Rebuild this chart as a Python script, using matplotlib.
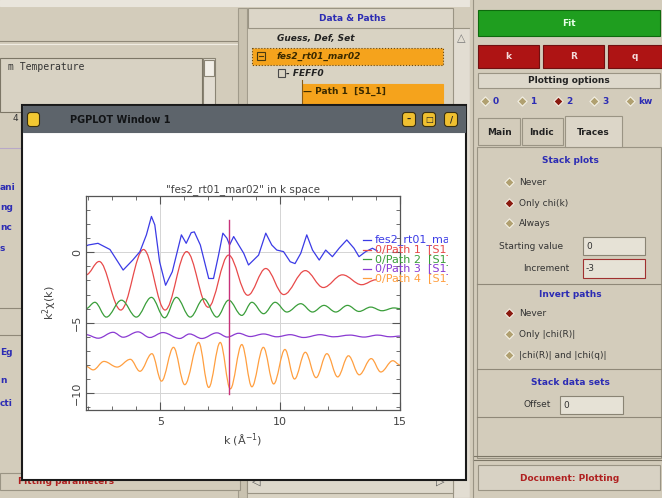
import matplotlib
matplotlib.use("Agg")
import matplotlib.pyplot as plt
from matplotlib.patches import Rectangle, PathPatch, FancyBboxPatch
from matplotlib.path import Path
from matplotlib.transforms import Bbox, TransformedBbox
from matplotlib.ticker import MultipleLocator

# stacked chi(k) traces
data_k = [1.9, 2.0, 2.4, 2.9, 3.45, 3.85, 4.15, 4.42, 4.63, 4.77, 4.97, 5.22, 5.5,
          5.88, 6.08, 6.29, 6.42, 6.67, 7.02, 7.22, 7.43, 7.61, 7.78, 7.89, 8.06,
          8.27, 8.48, 8.68, 8.89, 9.1, 9.4, 9.65, 9.86, 10.14, 10.42, 10.62, 10.86,
          11.11, 11.35, 11.63, 11.9, 12.18, 12.46, 12.78, 13.08, 13.29, 13.57,
          13.85, 14.05]
data_chi = [0.45, 0.52, 0.64, 0.2, -1.26, -0.55, 0.05, 1.24, 2.55, 1.95, -0.67,
            -2.34, -1.38, 1.24, 0.64, 1.4, 1.45, 0.52, -1.86, -1.86, -0.2, 1.36,
            1.0, 0.52, 1.12, 0.52, -0.07, -0.9, -0.55, -0.2, 1.36, 0.52, 0.16,
            0.05, -0.67, -0.8, -0.07, 1.24, 0.16, -0.55, 0.16, -0.31, 0.29, 0.88,
            0.29, -0.31, 0.05, 0.29, 0.1]

# paths: only the turning points are listed, drawn as smooth curves
path1_k = [1.9, 2.45, 3.35, 4.3, 5.2, 6.1, 7.0, 7.85, 8.65, 9.4, 10.15, 11.05,
           11.8, 12.6, 13.4, 14.0]
path1_chi = [-1.6, -0.65, -4.1, 0.2, -4.1, 0.05, -3.9, -0.2, -3.05, -1.15, -3.0,
             -1.3, -2.5, -1.6, -2.3, -1.95]

path2_k = [1.9, 2.27, 2.75, 3.38, 4.0, 4.63, 5.18, 5.67, 6.25, 6.81, 7.36, 7.85,
           8.4, 8.82, 9.31, 9.79, 10.28, 10.86, 11.35, 11.83, 12.32, 12.81, 13.29,
           13.78, 14.25, 14.75, 15.0]
path2_chi = [-4.0, -3.55, -4.6, -3.4, -4.6, -3.2, -4.65, -3.2, -4.6, -3.3, -4.6,
             -3.4, -4.48, -3.55, -4.36, -3.55, -4.24, -3.65, -4.24, -3.77, -4.24,
             -3.77, -4.2, -3.89, -4.15, -3.95, -4.0]

path3_k = [1.9, 2.41, 3.03, 3.45, 4.07, 4.56, 5.11, 5.81, 6.22, 6.73, 7.36, 7.8,
           8.27, 8.75, 9.31, 9.86, 10.42, 10.98, 11.67, 12.23, 12.92, 13.5, 14.06,
           14.6, 15.0]
path3_chi = [-5.85, -6.1, -5.68, -6.03, -5.65, -6.05, -5.7, -6.12, -5.8, -6.12,
             -5.72, -6.02, -5.75, -5.98, -5.8, -6.0, -5.85, -6.05, -5.85, -6.0,
             -5.88, -6.02, -5.88, -6.0, -5.95]

path4_k = [1.9, 2.2, 2.65, 3.2, 3.75, 4.15, 4.65, 5.05, 5.55, 6.02, 6.6, 7.02, 7.5,
           7.92, 8.4, 8.82, 9.3, 9.73, 10.2, 10.6, 11.05, 11.5, 11.95, 12.4, 12.85,
           13.3, 13.8, 14.2, 14.7, 15.0]
path4_chi = [-8.1, -8.35, -7.75, -8.15, -7.6, -8.45, -7.2, -9.15, -6.75, -9.4,
             -6.4, -9.6, -6.4, -9.7, -6.55, -9.55, -6.75, -9.35, -6.9, -9.0, -7.1,
             -8.9, -7.2, -8.85, -7.35, -8.7, -7.55, -8.5, -7.7, -8.0]

legend_labels = ["fes2_rt01_mar02", "0/Path 1  [S1_1]", "0/Path 2  [S1_2]",
                 "0/Path 3  [S1_3]", "0/Path 4  [S1_4]"]
colors = ["#3b3be6", "#e84a4a", "#3a9e3a", "#8a3ad2", "#ff9f40"]
k_marker = 7.87

BG = "#d3ccbb"
BLUE_TXT = "#2c2cb4"


def smooth(ax, k, v, color):
    # cubic bezier with flat tangents at each turning point
    verts = [(k[0], v[0])]
    codes = [Path.MOVETO]
    for i in range(1, len(k)):
        d = (k[i] - k[i - 1]) * 0.36
        verts += [(k[i - 1] + d, v[i - 1]), (k[i] - d, v[i]), (k[i], v[i])]
        codes += [Path.CURVE4] * 3
    ax.add_patch(PathPatch(Path(verts, codes), fill=False, edgecolor=color, lw=0.9))


fig = plt.figure(figsize=(6.62, 4.98), dpi=100, facecolor=BG)

# ---- the GUI around the plot, in pixel coordinates
ui = fig.add_axes([0, 0, 1, 1])
ui.set_xlim(0, 662)
ui.set_ylim(498, 0)
ui.axis("off")


def box(x0, y0, x1, y1, fc, ec=None, lw=0.8, z=1, ls="-"):
    ui.add_patch(Rectangle((x0, y0), x1 - x0, y1 - y0, facecolor=fc,
                           edgecolor=ec or fc, lw=lw, zorder=z, ls=ls))


def label(x, y, s, size=6.5, z=2, **kw):
    kw.setdefault("color", "#222222")
    ui.text(x, y, s, fontsize=size, va="center", zorder=z, **kw)


def hline(x0, x1, y, color="#8f8878", z=1, lw=0.8):
    ui.plot([x0, x1], [y, y], color=color, lw=lw, zorder=z)


def radio(x, y, on=False):
    ui.scatter([x], [y], marker="D", s=22, facecolor="#b0a070" if not on else "#8a1a10",
               edgecolor="#f4f0e4", lw=0.8, zorder=3)


box(0, 0, 662, 6, "#e9e5dc")

# left panel
hline(0, 238, 41)
hline(0, 238, 44, color="#f0ece2")
box(0, 58, 202, 112, "#d8d2c3", ec="#7c7666")
label(8, 67, "m Temperature", size=7, family="DejaVu Sans Mono", color="#333333")
box(203, 58, 215, 112, "#e2ddd2", ec="#8a8474")
box(204, 60, 214, 76, "#f2efe8", ec="#8a8474")
box(238, 8, 247, 498, "#c9c2b0", ec="#a09a8a")
for y, s in [(187, "ani"), (207, "ng"), (227, "nc"), (248, "s"), (352, "Eg"),
             (380, "n"), (403, "cti")]:
    label(0, y, s, weight="bold", color=BLUE_TXT)
label(13, 118, "4", color="#333333")
hline(0, 22, 148, color="#b8a8c8")
hline(0, 22, 308)
hline(0, 22, 335)
box(0, 473, 240, 490, BG, ec="#9a9484")
label(18, 481, "Fitting parameters", weight="bold", color="#b02020")

# data & paths tree
box(248, 28, 453, 498, "#d9d3c3")
box(248, 8, 453, 28, "#dcd6c8", ec="#9a9484")
label(352, 18, "Data & Paths", weight="bold", color=BLUE_TXT, ha="center")
label(277, 38, "Guess, Def, Set", weight="bold", style="italic")
box(252, 48, 443, 65, "#f5a31c", ec="#6a4a10", ls=":")
box(257, 52, 265, 60, "#f5a31c", ec="#4a3a10", z=2)
hline(259, 263, 56, color="#4a3a10", z=3)
label(277, 56, "fes2_rt01_mar02", weight="bold", style="italic", color="#3a2a00")
box(278, 69, 285, 77, "#d9d3c3", ec="#4a4a4a", z=2)
label(286, 73, "- FEFF0", weight="bold", style="italic")
ui.plot([302, 302], [80, 115], color="#8a5a10", lw=0.8, zorder=2)
box(303, 84, 443, 99, "#f5a31c")
label(303, 91, "— Path 1  [S1_1]", weight="bold", color="#3a2a00")
box(303, 100, 443, 115, "#f5a31c")
label(303, 108, "— Path 2  [S1_2]", weight="bold", color="#3a2a00")
box(453, 28, 470, 498, "#e2ddd2", ec="#9a9484")
label(461, 38, "△", ha="center", color="#777777", size=8)
box(247, 472, 453, 493, "#ddd8cb", ec="#9a9484", z=2)
label(256, 482, "◁", ha="center", color="#555555", size=8, z=3)
label(440, 482, "▷", ha="center", color="#555555", size=8, z=3)

# right control panel
box(470, 0, 662, 498, BG)
ui.plot([473, 473], [0, 498], color="#9a9484", lw=0.8, zorder=2)
box(478, 10, 660, 36, "#1f9e1f", ec="#0d6a0d", z=2)
label(569, 23, "Fit", weight="bold", color="#e8ffe8", ha="center")
for x0, x1, s in [(478, 539, "k"), (543, 604, "R"), (608, 662, "q")]:
    box(x0, 45, x1, 68, "#ae1414", ec="#701010", z=2)
    label((x0 + x1) / 2, 56, s, weight="bold", color="#f4dada", ha="center")
box(478, 73, 660, 88, "#ddd8cb", ec="#9a9484", z=2)
label(569, 80, "Plotting options", weight="bold", ha="center")
for x, s, on in [(485, "0", False), (522, "1", False), (558, "2", True),
                 (594, "3", False), (630, "kw", False)]:
    radio(x, 101, on)
    label(x + 8, 101, s, weight="bold", color=BLUE_TXT)
box(478, 118, 520, 145, BG, ec="#9a9484", z=2)
label(499, 132, "Main", weight="bold", ha="center")
box(522, 118, 563, 145, BG, ec="#9a9484", z=2)
label(542, 132, "Indic", weight="bold", ha="center")
box(565, 116, 622, 147, "#dcd6c8", ec="#9a9484", z=2)
label(593, 132, "Traces", weight="bold", ha="center")
box(477, 147, 661, 458, BG, ec="#9a9484")
label(570, 160, "Stack plots", weight="bold", color=BLUE_TXT, ha="center")
for y, s, on in [(182, "Never", False), (203, "Only chi(k)", True),
                 (223, "Always", False)]:
    radio(509, y, on)
    label(519, y, s, color="#333333")
label(499, 246, "Starting value", color="#333333")
box(583, 237, 645, 255, "#e6e2d6", ec="#8a8474", z=2)
label(586, 246, "0", color="#333333")
label(523, 268, "Increment", color="#333333")
box(583, 259, 645, 278, "#e6e2d6", ec="#a03030", z=2)
label(586, 268, "-3", color="#333333")
hline(477, 661, 284)
label(570, 294, "Invert paths", weight="bold", color=BLUE_TXT, ha="center")
for y, s, on in [(313, "Never", True), (334, "Only |chi(R)|", False),
                 (355, "|chi(R)| and |chi(q)|", False)]:
    radio(509, y, on)
    label(519, y, s, color="#333333")
hline(477, 661, 369)
label(570, 382, "Stack data sets", weight="bold", color=BLUE_TXT, ha="center")
label(523, 404, "Offset", color="#333333")
box(560, 396, 623, 414, "#e6e2d6", ec="#8a8474", z=2)
label(563, 405, "0", color="#333333")
hline(477, 661, 417)
hline(473, 662, 456, color="#7c7666")
hline(473, 662, 460, color="#7c7666")
box(478, 465, 660, 490, "#d8d2c4", ec="#9a9484", z=2)
label(570, 478, "Document: Plotting", weight="bold", color="#b02020", ha="center")

# PGPLOT window
box(22, 105, 466, 480, "#ffffff", ec="#1a1a1a", lw=1.5, z=5)
box(23, 106, 465, 132, "#5d646b", z=6)
ui.add_patch(FancyBboxPatch((28, 113), 11, 13, boxstyle="round,pad=0.5,rounding_size=3",
                            facecolor="#f2c832", edgecolor="#3a3010", lw=0.8, zorder=7))
label(70, 120, "PGPLOT Window 1", size=7, weight="bold", color="#121416", z=7)
for x, sym in [(403, "–"), (423, "□"), (445, "/")]:
    ui.add_patch(FancyBboxPatch((x, 113), 12, 13, boxstyle="round,pad=0.5,rounding_size=3",
                                facecolor="#f0c030", edgecolor="#3a3010", lw=0.8, zorder=7))
    label(x + 6, 119.5, sym, size=6, weight="bold", ha="center", z=8)

# ---- the chi(k) plot
ax = fig.add_axes([86 / 662, 1 - 410 / 498, 314 / 662, 214 / 498])
ax.set_facecolor("white")
ax.plot(data_k, data_chi, color=colors[0], lw=0.9)
smooth(ax, path1_k, path1_chi, colors[1])
smooth(ax, path2_k, path2_chi, colors[2])
smooth(ax, path3_k, path3_chi, colors[3])
smooth(ax, path4_k, path4_chi, colors[4])
ax.plot([k_marker, k_marker], [2.3, -10.05], color="#c8327a", lw=1)
ax.set_xlim(1.9, 15)
ax.set_ylim(-11.2, 4.0)
ax.xaxis.set_major_locator(MultipleLocator(5))
ax.xaxis.set_minor_locator(MultipleLocator(1))
ax.yaxis.set_major_locator(MultipleLocator(5))
ax.yaxis.set_minor_locator(MultipleLocator(1))
ax.grid(True, which="major", color="#d4d4d4", lw=0.7)
ax.set_axisbelow(True)
ax.tick_params(which="both", direction="in", top=True, right=True, color="#555555",
               labelsize=8, labelcolor="#444444")
ax.tick_params(which="major", length=6, width=0.8)
ax.tick_params(which="minor", length=3, width=0.6)
ax.tick_params(axis="x", pad=5)
ax.tick_params(axis="y", pad=3)
for t in ax.get_yticklabels():
    t.set_rotation(90)
    t.set_va("center")
for s in ax.spines.values():
    s.set_color("#555555")
    s.set_linewidth(0.9)
ax.set_title('"fes2_rt01_mar02" in k space', fontsize=7.5, color="#444444", pad=3)
ax.set_xlabel("k (Å$^{-1}$)", fontsize=8, color="#444444", labelpad=3)
ax.set_ylabel("k$^2$χ(k)", fontsize=8, color="#444444", labelpad=9)

# ---- legend on top, cut at the right edge of the drawing surface
top = fig.add_axes([0, 0, 1, 1])
top.set_xlim(0, 662)
top.set_ylim(498, 0)
top.axis("off")
top.patch.set_alpha(0)
cut = TransformedBbox(Bbox([[25, 132], [448, 477]]), top.transData)
for i, (s, c) in enumerate(zip(legend_labels, colors)):
    y = 240 + i * 9.6
    top.plot([363, 371], [y, y], color=c, lw=0.9)
    t = top.text(375, y, s, color=c, fontsize=8, va="center", clip_on=True)
    t.set_clip_box(cut)

fig.savefig("out.png", dpi=100, facecolor=fig.get_facecolor())
